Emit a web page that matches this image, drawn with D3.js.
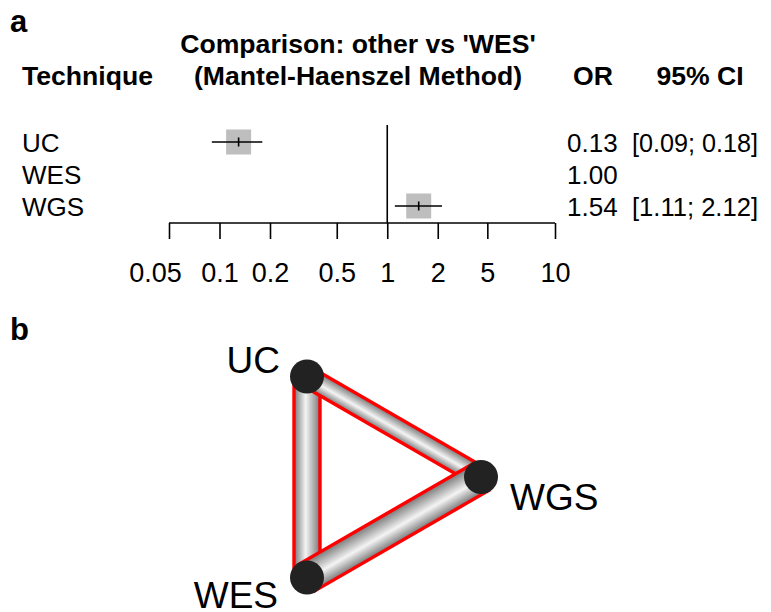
<!DOCTYPE html>
<html>
<head>
<meta charset="utf-8">
<script src="https://cdn.jsdelivr.net/npm/d3@7"></script>
<style>
  html, body { margin: 0; padding: 0; background: #fff; }
  svg { display: block; font-family: "Liberation Sans", Arial, Helvetica, sans-serif; }
</style>
</head>
<body>
<svg id="chart" width="771" height="612"></svg>
<script>
// ---- forest plot data (other vs 'WES') ----
const techniques = ["UC", "WES", "WGS"];
const orValues   = [0.13, 1.00, 1.54];
const ciLower    = [0.09, null, 1.11];
const ciUpper    = [0.18, null, 2.12];
const orLabels   = ["0.13", "1.00", "1.54"];
const ciLabels   = ["[0.09; 0.18]", "", "[1.11; 2.12]"];
const refTech    = "WES";
// tick marks as they sit on the axis, and the labels printed under them
const tickValues = [0.05, 0.1, 0.2, 0.5, 1, 2, 3.95, 10];
const tickLabels = ["0.05", "0.1", "0.2", "0.5", "1", "2", "5", "10"];

// ---- network graph data ----
const netNodes   = ["WGS", "UC", "WES"];           // placed counter-clockwise on a circle
const netEdges   = [["UC", "WES"], ["UC", "WGS"], ["WES", "WGS"]];
const edgeWeight = [26, 20, 31];

const svg = d3.select("#chart");

// panel letters
svg.append("text").attr("x", 10).attr("y", 32).attr("font-size", 31).attr("font-weight", "bold").text("a");
svg.append("text").attr("x", 10).attr("y", 340).attr("font-size", 31).attr("font-weight", "bold").text("b");

// ---------------- panel a: forest plot ----------------
const fs = 26;
const x = d3.scaleLog().domain([0.05, 10]).range([169, 555]);
const y = d3.scalePoint().domain(techniques).range([142, 206]);

// headers
const head = svg.append("g").attr("font-weight", "bold").attr("font-size", 26.6);
head.append("text").attr("x", 22).attr("y", 85).text("Technique");
head.append("text").attr("x", 358).attr("y", 53).attr("text-anchor", "middle").text("Comparison: other vs '" + refTech + "'");
head.append("text").attr("x", 358).attr("y", 85).attr("text-anchor", "middle").text("(Mantel-Haenszel Method)");
head.append("text").attr("x", 593).attr("y", 85).attr("text-anchor", "middle").text("OR");
head.append("text").attr("x", 700).attr("y", 85).attr("text-anchor", "middle").text("95% CI");

// row labels and numbers
const rows = svg.append("g").attr("font-size", fs);
techniques.forEach((t, i) => {
  const yy = y(t) + 9.5;
  rows.append("text").attr("x", 22).attr("y", yy).text(t);
  rows.append("text").attr("x", 567).attr("y", yy).text(orLabels[i]);
  if (ciLabels[i]) rows.append("text").attr("x", 632).attr("y", yy)
    .attr("textLength", 126).attr("lengthAdjust", "spacingAndGlyphs").text(ciLabels[i]);
});

// no-effect line
svg.append("line")
  .attr("x1", x(1)).attr("x2", x(1))
  .attr("y1", 125).attr("y2", 223)
  .attr("stroke", "#000").attr("stroke-width", 1.6);

// estimates with confidence intervals
const box = 25;
techniques.forEach((t, i) => {
  if (ciLower[i] == null) return;
  const cy = y(t), cx = x(orValues[i]);
  svg.append("rect")
    .attr("x", cx - box / 2).attr("y", cy - box / 2)
    .attr("width", box).attr("height", box)
    .attr("fill", "#bebebe");
  svg.append("line")
    .attr("x1", x(ciLower[i])).attr("x2", x(ciUpper[i]))
    .attr("y1", cy).attr("y2", cy)
    .attr("stroke", "#000").attr("stroke-width", 1.6);
  svg.append("line")
    .attr("x1", cx).attr("x2", cx)
    .attr("y1", cy - 4.5).attr("y2", cy + 4.5)
    .attr("stroke", "#000").attr("stroke-width", 1.6);
});

// log axis
const axis = d3.axisBottom(x)
  .tickValues(tickValues)
  .tickFormat((d, i) => tickLabels[i])
  .tickSize(16)
  .tickPadding(24);
const ag = svg.append("g").attr("transform", "translate(0,223)").call(axis);
ag.select(".domain").attr("stroke", "#000").attr("stroke-width", 1.6)
  .attr("d", `M${x(0.05)},0H${x(10)}`);
ag.selectAll(".tick line").attr("stroke", "#000").attr("stroke-width", 1.6);
ag.selectAll(".tick text")
  .attr("font-size", 27).attr("font-family", "'Liberation Sans', Arial, sans-serif")
  .attr("fill", "#000").attr("dy", null).attr("y", 59)
  .attr("dx", (d, i) => i === 0 ? -14 : 0);   // first label pulled left to clear its neighbour

// ---------------- panel b: network graph ----------------
const cx0 = 365, cy0 = 477, rad = 116;
const angle = d3.scaleLinear().domain([0, netNodes.length]).range([0, 2 * Math.PI]);
const pos = {};
netNodes.forEach((n, i) => {
  const a = angle(i);
  pos[n] = [cx0 + rad * Math.cos(a), cy0 - rad * Math.sin(a)];
});
const width = d3.scaleLinear().domain([0, d3.max(edgeWeight)]).range([0, 31]);

const defs = svg.append("defs");
netEdges.forEach(([a, b], i) => {
  const [x1, y1] = pos[a], [x2, y2] = pos[b];
  const dx = x2 - x1, dy = y2 - y1, L = Math.hypot(dx, dy);
  const nx = -dy / L, ny = dx / L;
  const h = width(edgeWeight[i]) / 2;
  const gid = "tube" + i;
  const g = defs.append("linearGradient").attr("id", gid)
    .attr("gradientUnits", "userSpaceOnUse")
    .attr("x1", x1 + nx * h).attr("y1", y1 + ny * h)
    .attr("x2", x1 - nx * h).attr("y2", y1 - ny * h);
  g.append("stop").attr("offset", 0).attr("stop-color", "#777777");
  g.append("stop").attr("offset", 0.45).attr("stop-color", "#f4f4f4");
  g.append("stop").attr("offset", 1).attr("stop-color", "#777777");
  const pts = [
    [x1 + nx * h, y1 + ny * h], [x2 + nx * h, y2 + ny * h],
    [x2 - nx * h, y2 - ny * h], [x1 - nx * h, y1 - ny * h]
  ];
  svg.append("polygon")
    .attr("points", pts.map(p => p.join(",")).join(" "))
    .attr("fill", `url(#${gid})`)
    .attr("stroke", "#ff0000").attr("stroke-width", 3.4)
    .attr("stroke-linejoin", "miter");
});

svg.selectAll("circle.node").data(netNodes).enter().append("circle")
  .attr("class", "node")
  .attr("cx", d => pos[d][0]).attr("cy", d => pos[d][1])
  .attr("r", 17).attr("fill", "#222");

// node labels
const lab = { UC: [-27, -4, "end"], WGS: [29, 33, "start"], WES: [-29, 31, "end"] };
netNodes.forEach(n => {
  const [ox, oy, anc] = lab[n];
  svg.append("text")
    .attr("x", pos[n][0] + ox).attr("y", pos[n][1] + oy)
    .attr("text-anchor", anc).attr("font-size", 37).text(n);
});
</script>
</body>
</html>
